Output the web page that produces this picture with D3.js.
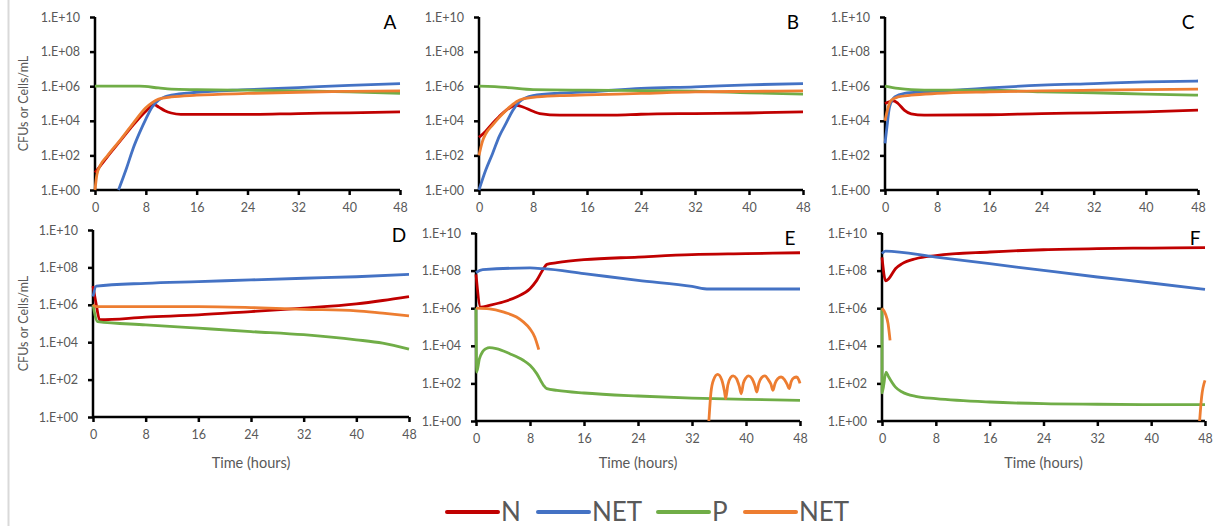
<!DOCTYPE html>
<html>
<head>
<meta charset="utf-8">
<script src="https://cdn.jsdelivr.net/npm/d3@7"></script>
<style>
  body { margin: 0; background: #fff; }
  svg text { font-family: Lato, "Open Sans", sans-serif; }
</style>
</head>
<body>
<svg width="1217" height="527"></svg>
<script>
// values are log10(CFUs or cells/mL), as [hour, log10]
const hourTicks = [0, 8, 16, 24, 32, 40, 48];
const expTicks  = [0, 2, 4, 6, 8, 10];
const seriesNames  = ["N", "NET", "P", "NET"];
const seriesColors = ["#C00000", "#4472C4", "#70AD47", "#ED7D31"];

// panel A
const nA    = [[0,1.0],[2,1.95],[4,2.85],[6,3.75],[8,4.55],[9.3,4.94],[10,4.8],[11,4.58],[12,4.45],[13.5,4.37],[24,4.37],[32,4.42],[40,4.46],[48,4.52]];
const netBA = [[3.7,0],[5,1.3],[6,2.4],[7,3.3],[8,4.1],[9,4.8],[10,5.2],[11,5.38],[12,5.48],[16,5.65],[24,5.8],[32,5.92],[40,6.05],[48,6.15]];
const pA    = [[0,6.0],[7,6.0],[10,5.9],[12,5.83],[16,5.8],[24,5.77],[32,5.73],[40,5.67],[48,5.58]];
const netOA = [[0,0],[0.3,0.9],[0.8,1.4],[2,2.0],[4,2.9],[6,3.85],[8,4.75],[9,5.05],[10,5.25],[12,5.38],[16,5.48],[24,5.58],[32,5.65],[40,5.7],[48,5.73]];

// panel B
const nB    = [[0,3.04],[1,3.4],[2,3.85],[3,4.25],[4,4.6],[5.5,4.9],[6.5,4.8],[8,4.55],[9,4.42],[12,4.33],[20,4.33],[24,4.38],[32,4.42],[40,4.45],[48,4.52]];
const netBB = [[0,0],[1,1.15],[2,2.1],[3,3.1],[4,3.85],[5,4.6],[6,5.1],[8,5.45],[12,5.6],[16,5.67],[24,5.87],[32,5.96],[40,6.08],[48,6.15]];
const pB    = [[0,6.0],[4,5.93],[8,5.8],[16,5.77],[24,5.75],[32,5.72],[40,5.62],[48,5.54]];
const netOB = [[0,2.0],[0.5,2.8],[1,3.25],[2,3.75],[3,4.2],[4,4.6],[5,4.95],[6,5.2],[8,5.35],[12,5.45],[16,5.5],[24,5.58],[32,5.67],[40,5.7],[48,5.73]];

// panel C
const nC    = [[0,5.0],[1.3,5.15],[2,5.0],[3,4.6],[4,4.4],[6,4.33],[16,4.35],[24,4.42],[32,4.46],[40,4.52],[48,4.62]];
const netBC = [[0,2.7],[0.3,3.65],[0.7,4.8],[1.5,5.38],[3,5.58],[6,5.67],[12,5.8],[16,5.9],[24,6.06],[32,6.15],[40,6.25],[48,6.3]];
const pC    = [[0,6.0],[2,5.87],[4,5.8],[8,5.77],[16,5.77],[24,5.67],[32,5.62],[40,5.54],[48,5.48]];
const netOC = [[0,4.0],[0.5,4.8],[1,5.2],[2,5.38],[4,5.48],[8,5.58],[16,5.67],[24,5.73],[32,5.77],[48,5.83]];

// panel D
const nD    = [[0,7.0],[0.5,6.0],[1,5.2],[8,5.34],[16,5.46],[24,5.64],[32,5.82],[40,6.05],[44,6.23],[48,6.44]];
const netBD = [[0,6.44],[0.5,7.0],[8,7.15],[16,7.24],[24,7.33],[32,7.42],[40,7.5],[48,7.63]];
const pD    = [[0,6.0],[0.7,5.1],[8,4.93],[16,4.75],[24,4.57],[32,4.4],[40,4.13],[44,3.95],[48,3.63]];
const netOD = [[0,6.0],[0.5,5.9],[16,5.9],[24,5.85],[32,5.76],[40,5.68],[44,5.55],[48,5.41]];

// panel E
const nE    = [[0,7.8],[0.7,6.05],[2,6.15],[4,6.33],[6,6.6],[8,7.04],[9,7.48],[10,8.1],[10.5,8.33],[12,8.42],[16,8.58],[24,8.72],[32,8.85],[40,8.9],[48,8.95]];
const netBE = [[0,7.9],[1,8.05],[8,8.14],[10,8.1],[16,7.84],[24,7.48],[32,7.16],[34.5,7.02],[48,7.02]];
const pE    = [[0,6.0],[0.1,2.6],[0.5,3.3],[1,3.7],[1.5,3.85],[2,3.9],[3,3.85],[5,3.58],[7,3.23],[8,2.96],[9,2.52],[10,1.9],[10.5,1.72],[12,1.63],[16,1.49],[24,1.33],[32,1.22],[40,1.15],[48,1.1]];
const netOE = [[0,6.0],[2,5.96],[4,5.8],[6,5.53],[7,5.27],[8,4.9],[8.7,4.47],[9.3,3.8], null,
  [34.5,0],[34.8,1.5],[35.2,2.2],[35.8,2.48],[36.4,2.2],[36.8,1.6],[37,1.19],
  [37.3,1.9],[37.7,2.3],[38.1,2.4],[38.6,2.25],[39,1.85],[39.3,1.45],
  [39.6,2.0],[40,2.3],[40.4,2.4],[40.9,2.25],[41.3,1.9],[41.6,1.54],
  [41.9,2.0],[42.3,2.3],[42.8,2.4],[43.3,2.2],[43.7,1.95],[44,1.63],
  [44.3,2.0],[44.7,2.25],[45.2,2.34],[45.7,2.2],[46.1,1.95],[46.4,1.72],
  [46.7,2.1],[47.1,2.3],[47.5,2.34],[47.8,2.2],[48,2.0]];

// panel F
const nF    = [[0,8.7],[0.55,7.45],[1,7.57],[2,8.1],[3,8.37],[5,8.63],[8,8.8],[16,8.99],[24,9.11],[32,9.17],[40,9.2],[48,9.22]];
const netBF = [[0,8.9],[0.5,9.04],[8,8.72],[16,8.37],[24,8.01],[32,7.66],[40,7.34],[48,7.0]];
const pF    = [[0,6.0],[0.02,1.5],[0.6,2.6],[1,2.34],[2,1.8],[3,1.54],[5,1.31],[8,1.19],[16,1.01],[24,0.92],[32,0.89],[40,0.87],[48,0.87]];
const netOF = [[0,6.0],[0.5,5.71],[0.9,5.18],[1.2,4.29], null, [47.2,0],[47.5,1.28],[48,2.16]];

const panelLabels = ["A", "B", "C", "D", "E", "F"];
const panelData = [
  [nA, netBA, pA, netOA],
  [nB, netBB, pB, netOB],
  [nC, netBC, pC, netOC],
  [nD, netBD, pD, netOD],
  [nE, netBE, pE, netOE],
  [nF, netBF, pF, netOF]
];

// plot boxes: left/right of x axis, top/bottom of y axis
const boxes = [
  {x0: 95,  x1: 400,  y0: 17,  y1: 190, yLabel: true,  xTitle: false},
  {x0: 479, x1: 803,  y0: 17,  y1: 190, yLabel: false, xTitle: false},
  {x0: 885, x1: 1198, y0: 17,  y1: 190, yLabel: false, xTitle: false},
  {x0: 93,  x1: 409,  y0: 230, y1: 417, yLabel: true,  xTitle: true},
  {x0: 476, x1: 800,  y0: 233, y1: 421, yLabel: false, xTitle: true},
  {x0: 882, x1: 1205, y0: 233, y1: 421, yLabel: false, xTitle: true}
];

const svg = d3.select("svg");

svg.append("line")
    .attr("x1", 8.5).attr("x2", 8.5)
    .attr("y1", 0).attr("y2", 526)
    .attr("stroke", "#d9d9d9")
    .attr("stroke-width", 2);

boxes.forEach((b, i) => {
    const x = d3.scaleLinear().domain([0, 48]).range([b.x0, b.x1]);
    const y = d3.scaleLog().domain([1, 1e10]).range([b.y1, b.y0]);
    const g = svg.append("g");

    const yAxis = g.append("g")
        .attr("transform", `translate(${b.x0},0)`)
        .call(d3.axisLeft(y)
            .tickValues(expTicks.map(e => Math.pow(10, e)))
            .tickFormat(d => "1.E+" + String(Math.round(Math.log10(d))).padStart(2, "0"))
            .tickSize(5).tickPadding(10));

    const xAxis = g.append("g")
        .attr("transform", `translate(0,${b.y1})`)
        .call(d3.axisBottom(x).tickValues(hourTicks).tickSize(5).tickPadding(8));

    [yAxis, xAxis].forEach(a => {
        a.select(".domain").attr("stroke", "#000").attr("stroke-width", 2.5);
        a.selectAll(".tick line").attr("stroke", "#000").attr("stroke-width", 2.5);
        a.selectAll(".tick text").attr("fill", "#595959").style("font-size", "12.5px");
    });
    yAxis.select(".domain").attr("d", `M0,${b.y0}V${b.y1}`);
    xAxis.select(".domain").attr("d", `M${b.x0},0H${b.x1}`);

    const line = d3.line()
        .defined(d => d != null)
        .x(d => x(d[0]))
        .y(d => y(Math.pow(10, d[1])))
        .curve(d3.curveMonotoneX);

    panelData[i].forEach((s, k) => {
        g.append("path")
            .attr("d", line(s))
            .attr("fill", "none")
            .attr("stroke", seriesColors[k])
            .attr("stroke-width", 2.8)
            .attr("stroke-linejoin", "round");
    });

    g.append("text")
        .attr("x", b.x1 - 10)
        .attr("y", b.y0 + 12)
        .attr("text-anchor", "middle")
        .style("font-size", "19px")
        .attr("fill", "#000")
        .text(panelLabels[i]);

    if (b.yLabel) {
        g.append("text")
            .attr("transform", `translate(28,${(b.y0 + b.y1) / 2}) rotate(-90)`)
            .attr("text-anchor", "middle")
            .style("font-size", "12.5px")
            .attr("fill", "#595959")
            .text("CFUs or Cells/mL");
    }
    if (b.xTitle) {
        g.append("text")
            .attr("x", (b.x0 + b.x1) / 2)
            .attr("y", 468)
            .attr("text-anchor", "middle")
            .style("font-size", "14.5px")
            .attr("fill", "#595959")
            .text("Time (hours)");
    }
});

// legend
const legendX = [447, 538, 658, 745];
const legend = svg.append("g").attr("transform", "translate(0,512)");
seriesNames.forEach((name, k) => {
    legend.append("line")
        .attr("x1", legendX[k]).attr("x2", legendX[k] + 51)
        .attr("y1", 0).attr("y2", 0)
        .attr("stroke", seriesColors[k])
        .attr("stroke-width", 4)
        .attr("stroke-linecap", "round");
    legend.append("text")
        .attr("x", legendX[k] + 54)
        .attr("y", 9)
        .style("font-size", "26px")
        .attr("fill", "#595959")
        .text(name);
});
</script>
</body>
</html>
